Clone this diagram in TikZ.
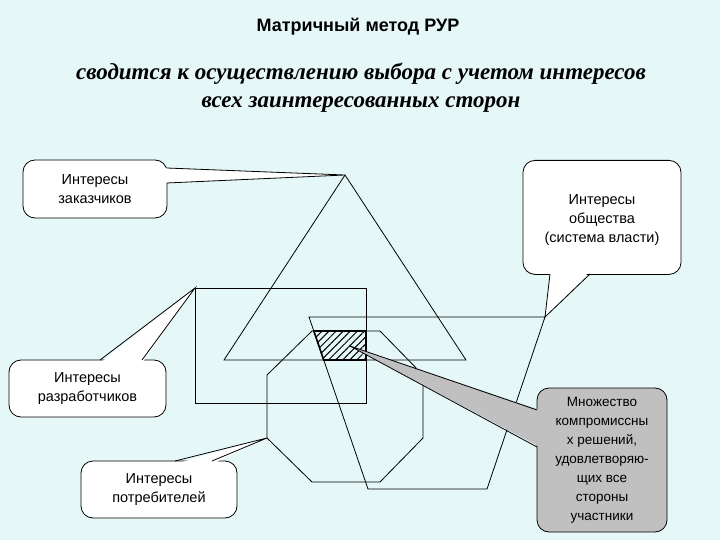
\documentclass[tikz,border=0pt]{standalone}
\usepackage{fontspec}
\setmainfont{Liberation Sans}
\newfontfamily\serifit{Liberation Serif}
\usetikzlibrary{patterns.meta}
\definecolor{bg}{RGB}{230,247,247}
\definecolor{callgrey}{RGB}{192,192,192}
\begin{document}
\begin{tikzpicture}[x=1pt,y=-1pt,
  shp/.style={draw=black,line width=0.8pt},
  box/.style={draw=black,fill=white,rounded corners=12pt,line width=0.8pt,align=center,inner sep=0pt,
     font=\fontsize{14.5}{19}\selectfont},
  tailline/.style={draw=black,line width=0.8pt}]
\fill[bg] (0,0) rectangle (720,540);
\useasboundingbox (0,0) rectangle (720,540);
\node[font=\fontsize{18}{20}\selectfont\bfseries] (title) at (358,27) {Матричный метод РУР};
\node[align=center,font=\serifit\fontsize{23}{28}\selectfont\bfseries\itshape] (sub) at (361,88) {сводится к осуществлению выбора с учетом интересов\\ всех заинтересованных сторон};
% shapes
\draw[shp] (345,175) -- (466,360) -- (224,360) -- cycle;
\draw[shp] (195,288) rectangle (366,403);
\draw[shp] (309,317) -- (545,317) -- (487,489) -- (368,489) -- cycle;
\draw[shp] (312,331) -- (380,331) -- (423,375) -- (423,438) -- (380,482) -- (312,482) -- (267,438) -- (267,375) -- cycle;
\draw[line width=1.6pt,pattern={Lines[angle=45,distance=5pt,line width=1pt]}] (313.8,331) -- (366,331) -- (366,360) -- (323.7,360) -- cycle;
% callout boxes
\node[box,minimum width=144pt,minimum height=58pt] (zak) at (95,189) {Интересы\\заказчиков};
\node[box,minimum width=157pt,minimum height=57pt] (raz) at (87.5,388.5) {Интересы\\разработчиков};
\node[box,minimum width=156pt,minimum height=57pt] (pot) at (159,489.5) {Интересы\\потребителей};
\node[box,minimum width=158pt,minimum height=114pt,anchor=north] (obs) at (602,160) {\\[-4pt]Интересы\\общества\\(система власти)};
\node[box,fill=callgrey,minimum width=130pt,minimum height=144pt,font=\fontsize{13.5}{19}\selectfont] (mno) at (602,460) {Множество\\компромиссны\\х решений,\\удовлетворяю-\\щих все\\стороны\\участники};
% tails
\coordinate (t1) at (345,175);
\coordinate (t2) at (195,288);
\coordinate (t3) at (267,438);
\coordinate (t4) at (545,317);
\coordinate (t5) at (350,346);
\fill[white] (163,168) -- (t1) -- (163,183) -- cycle;
\draw[tailline] (166.6,168) -- (t1) -- (166.6,183);
\fill[white] (100,363) -- (t2) -- (142,363) -- cycle;
\draw[tailline] (100,360) -- (t2) -- (142,360);
\fill[white] (175,464) -- (t3) -- (212,464) -- cycle;
\draw[tailline] (175,461) -- (t3) -- (212,461);
\fill[white] (550,271) -- (t4) -- (590,271) -- cycle;
\draw[tailline] (550,274) -- (t4) -- (590,274);
\fill[callgrey] (540,410) -- (t5) -- (540,447) -- cycle;
\draw[tailline] (537,410) -- (t5) -- (537,447);
\end{tikzpicture}
\end{document}
